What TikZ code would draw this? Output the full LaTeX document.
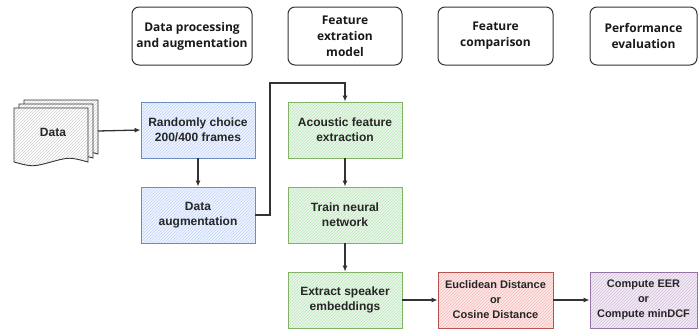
\documentclass[tikz,border=0pt]{standalone}
\usepackage{fontspec}
\setmainfont{Liberation Sans}
\newfontfamily\headfont{Open Sans}
\usetikzlibrary{arrows.meta,patterns}

\definecolor{inkgray}{HTML}{333333}
\definecolor{bluefill}{HTML}{DAE8FC}\definecolor{blueline}{HTML}{6C8EBF}
\definecolor{greenfill}{HTML}{D5E8D4}\definecolor{greenline}{HTML}{82B366}
\definecolor{redfill}{HTML}{F8CECC}\definecolor{redline}{HTML}{B85450}
\definecolor{purpfill}{HTML}{E1D5E7}\definecolor{purpline}{HTML}{9673A6}

\tikzstyle{head}=[draw=inkgray,line width=1pt,rounded corners=7pt,align=center,
  font=\headfont\bfseries\fontsize{12}{16}\selectfont,text=black!90]
\tikzstyle{stage}=[draw,line width=0.8pt,minimum height=56pt,align=center,
  font=\bfseries\fontsize{12}{15}\selectfont,text=black!85,inner sep=1pt]
\tikzstyle{bluebox}=[stage,draw=blueline,preaction={fill=bluefill!45},pattern=north east lines,pattern color=bluefill!90!blue]
\tikzstyle{greenbox}=[stage,draw=greenline,preaction={fill=greenfill!45},pattern=north east lines,pattern color=greenfill!85!green]
\tikzstyle{redbox}=[stage,draw=redline,preaction={fill=redfill!45},pattern=north east lines,pattern color=redfill!90!red,font=\bfseries\fontsize{11}{15}\selectfont]
\tikzstyle{purpbox}=[stage,draw=purpline,preaction={fill=purpfill!45},pattern=north east lines,pattern color=purpfill!90!violet,font=\bfseries\fontsize{11}{15}\selectfont]
\tikzstyle{arr}=[draw=inkgray,line width=1.3pt,-{Latex[length=6pt,width=5pt]}]
\tikzstyle{page}=[draw=inkgray,line width=0.9pt,preaction={fill=white},pattern=north east lines,pattern color=black!18]

% one sheet with a wavy lower edge: left, top, right, bottom
\newcommand{\sheet}[4]{%
  \path[page] (#1,#2) -- (#3,#2) -- (#3,#4-3)
    .. controls ({#3-(#3-#1)/4},{#4-8}) .. ({(#1+#3)/2},#4-3)
    .. controls ({#1+(#3-#1)/4},{#4+2}) .. (#1,#4-3) -- cycle;}

\begin{document}
\begin{tikzpicture}[x=1pt,y=-1pt]
\useasboundingbox (0,0) rectangle (699,332);

% column headings
\node[head,minimum width=120pt,minimum height=58pt] (h1) at (192,36) {Data processing\\and augmentation};
\node[head,minimum width=114pt,minimum height=58pt] (h2) at (345,36) {Feature\\extration\\model};
\node[head,minimum width=115pt,minimum height=58pt] (h3) at (495.5,36) {Feature\\comparison};
\node[head,minimum width=107pt,minimum height=58pt] (h4) at (643.5,36) {Performance\\evaluation};

% input data stack
\sheet{24}{100}{98}{157}
\sheet{19}{104}{93}{161}
\sheet{14}{108}{88}{165}
\node[font=\bfseries\fontsize{12}{15}\selectfont,text=black!85] (data) at (53,132) {Data};
\coordinate (dataout) at (98,131);

% processing stages
\node[bluebox,minimum width=114pt] (rand) at (198,130) {Randomly choice\\200/400 frames};
\node[bluebox,minimum width=114pt] (aug) at (198,215) {Data\\augmentation};
\node[greenbox,minimum width=114pt] (acou) at (345,130) {Acoustic feature\\extraction};
\node[greenbox,minimum width=114pt] (train) at (345,215) {Train neural\\network};
\node[greenbox,minimum width=114pt] (emb) at (345,300) {Extract speaker\\embeddings};
\node[redbox,minimum width=115pt] (dist) at (495.5,300) {Euclidean Distance\\or\\Cosine Distance};
\node[purpbox,minimum width=107pt] (eval) at (643.5,300) {Compute EER\\or\\Compute minDCF};

\coordinate (bend) at (270,83);

\draw[arr] (dataout) -- (rand.west);
\draw[arr] (rand) -- (aug);
\draw[arr] (aug.east) -| (bend) -| (acou.north);
\draw[arr] (acou) -- (train);
\draw[arr] (train) -- (emb);
\draw[arr] (emb) -- (dist);
\draw[arr] (dist) -- (eval);
\end{tikzpicture}
\end{document}
